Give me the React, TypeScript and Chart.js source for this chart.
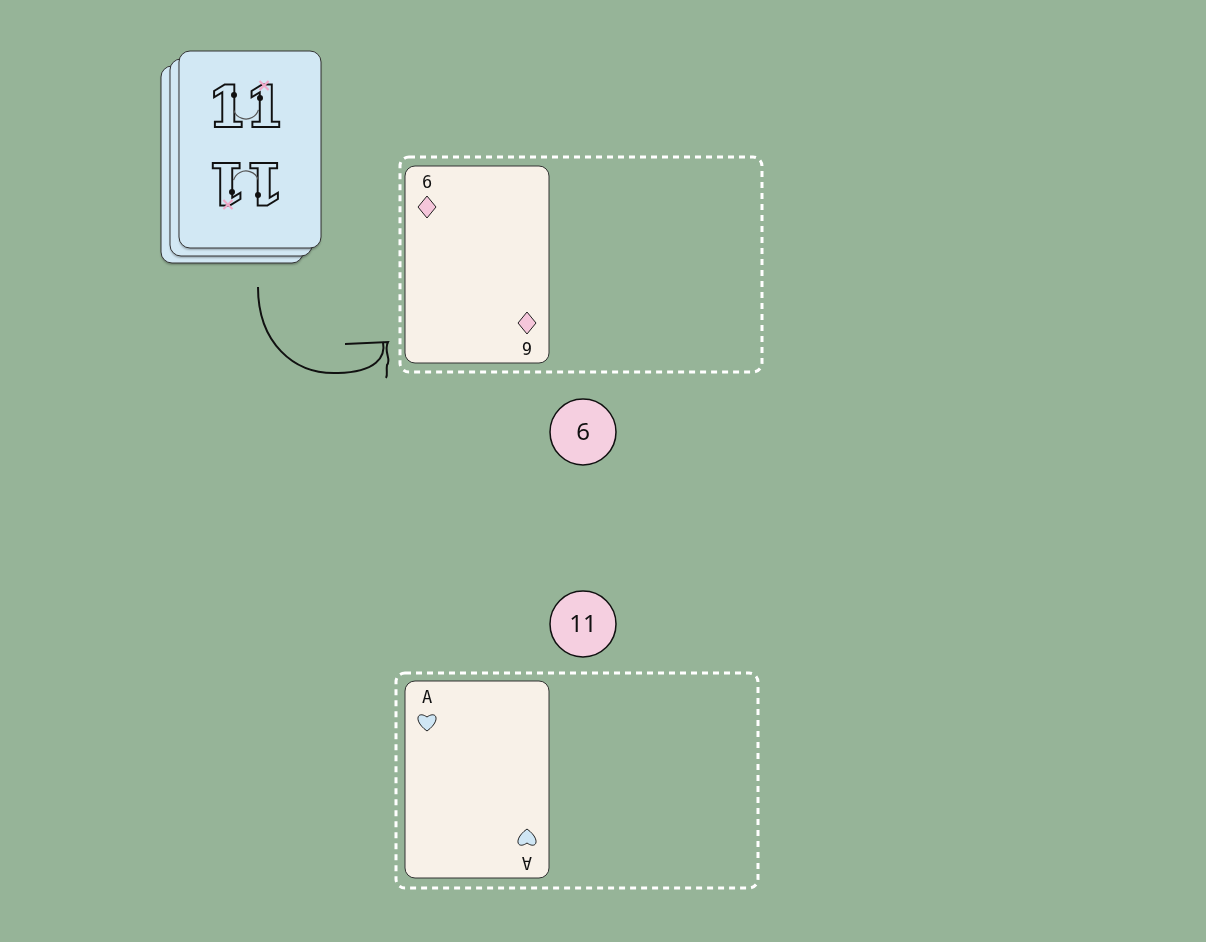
import React, { useEffect, useRef } from "react";
import { Chart, registerables } from "chart.js";
Chart.register(...registerables);

const scoreLabels = ["6", "11"];
const scoreX = [583, 583];
const scoreY = [432, 624];
const playedRanks = ["6", "A"];
const playedSuits = ["diamond", "heart"];
const deckLabel = "11";

function rr(ctx: CanvasRenderingContext2D, x: number, y: number, w: number, h: number, r: number) {
  ctx.beginPath();
  ctx.moveTo(x + r, y);
  ctx.arcTo(x + w, y, x + w, y + h, r);
  ctx.arcTo(x + w, y + h, x, y + h, r);
  ctx.arcTo(x, y + h, x, y, r);
  ctx.arcTo(x, y, x + w, y, r);
  ctx.closePath();
}

function suit(ctx: CanvasRenderingContext2D, kind: string, cx: number, cy: number) {
  ctx.beginPath();
  if (kind === "diamond") {
    ctx.moveTo(cx, cy - 11); ctx.lineTo(cx + 9, cy); ctx.lineTo(cx, cy + 11); ctx.lineTo(cx - 9, cy); ctx.closePath();
    ctx.fillStyle = "#f5c6da";
  } else {
    ctx.moveTo(cx, cy + 9);
    ctx.bezierCurveTo(cx - 14, cy - 1, cx - 10, cy - 12, cx, cy - 5);
    ctx.bezierCurveTo(cx + 10, cy - 12, cx + 14, cy - 1, cx, cy + 9);
    ctx.closePath();
    ctx.fillStyle = "#cfe6f4";
  }
  ctx.fill();
  ctx.strokeStyle = "#222"; ctx.lineWidth = 1; ctx.stroke();
}

function logo(ctx: CanvasRenderingContext2D, x: number, y: number, rot: number) {
  ctx.save(); ctx.translate(x, y); ctx.rotate(rot);
  ctx.font = "bold 54px 'DejaVu Serif'";
  ctx.textAlign = "center"; ctx.textBaseline = "middle";
  ctx.lineWidth = 4; ctx.strokeStyle = "#111"; ctx.fillStyle = "#d2e8f4";
  ctx.strokeText(deckLabel, 0, 0); ctx.fillText(deckLabel, 0, 0);
  ctx.fillStyle = "#111";
  ctx.beginPath(); ctx.arc(-12, -17, 3, 0, Math.PI * 2); ctx.arc(14, -14, 3, 0, Math.PI * 2); ctx.fill();
  ctx.strokeStyle = "#555"; ctx.lineWidth = 1.2;
  ctx.beginPath(); ctx.arc(0, -6, 13, 0.3, Math.PI - 0.3); ctx.stroke();
  ctx.fillStyle = "#f0a8c8"; ctx.font = "bold 18px 'DejaVu Sans'";
  ctx.fillText("×", 18, -26);
  ctx.restore();
}

const scene = {
  id: "scene",
  beforeDatasetsDraw(chart: any) {
    const ctx: CanvasRenderingContext2D = chart.ctx;
    const sx = chart.scales.x, sy = chart.scales.y;
    const P = (x: number, y: number) => [sx.getPixelForValue(x), sy.getPixelForValue(y)];
    ctx.save();
    ctx.fillStyle = "#96b498";
    ctx.fillRect(0, 0, chart.width, chart.height);
    const deck = [[161, 66], [170, 59], [179, 51]];
    deck.forEach(([x, y]) => {
      const [px, py] = P(x, y);
      ctx.shadowColor = "rgba(0,0,0,0.25)"; ctx.shadowOffsetY = 2; ctx.shadowBlur = 2;
      rr(ctx, px, py, 142, 197, 11);
      ctx.fillStyle = "#d2e8f4"; ctx.fill();
      ctx.shadowColor = "transparent";
      ctx.strokeStyle = "#333"; ctx.lineWidth = 1; ctx.stroke();
    });
    const [lx, ly] = P(246, 112);
    logo(ctx, lx, ly, 0);
    logo(ctx, lx, ly + 66, Math.PI);
    ctx.setLineDash([6, 5]); ctx.strokeStyle = "#fff"; ctx.lineWidth = 3;
    [[400, 157], [396, 673]].forEach(([x, y]) => {
      const [px, py] = P(x, y);
      rr(ctx, px, py, 362, 215, 9); ctx.stroke();
    });
    ctx.setLineDash([]);
    [[405, 166], [405, 681]].forEach(([x, y], i) => {
      const [px, py] = P(x, y);
      rr(ctx, px, py, 144, 197, 10);
      ctx.fillStyle = "#f8f1e8"; ctx.fill();
      ctx.strokeStyle = "#333"; ctx.lineWidth = 1; ctx.stroke();
      ctx.fillStyle = "#111"; ctx.font = "17px 'DejaVu Sans Mono'";
      ctx.textAlign = "center"; ctx.textBaseline = "middle";
      ctx.fillText(playedRanks[i], px + 22, py + 18);
      suit(ctx, playedSuits[i], px + 22, py + 41);
      ctx.save(); ctx.translate(px + 122, py + 180); ctx.rotate(Math.PI);
      ctx.fillStyle = "#111"; ctx.fillText(playedRanks[i], 0, 0);
      suit(ctx, playedSuits[i], 0, 23);
      ctx.restore();
    });
    ctx.strokeStyle = "#111"; ctx.lineWidth = 2;
    ctx.beginPath();
    const [a0, a1] = P(258, 287);
    ctx.moveTo(a0, a1);
    ctx.bezierCurveTo(a0, a1 + 55, a0 + 35, a1 + 88, a0 + 80, a1 + 86);
    ctx.bezierCurveTo(a0 + 118, a1 + 85, a0 + 128, a1 + 70, a0 + 125, a1 + 55);
    ctx.stroke();
    ctx.beginPath();
    ctx.moveTo(a0 + 87, a1 + 57); ctx.lineTo(a0 + 130, a1 + 55);
    ctx.bezierCurveTo(a0 + 125, a1 + 65, a0 + 134, a1 + 72, a0 + 129, a1 + 78);
    ctx.bezierCurveTo(a0 + 128, a1 + 84, a0 + 130, a1 + 88, a0 + 128, a1 + 91);
    ctx.stroke();
    ctx.restore();
  },
  afterDatasetsDraw(chart: any) {
    const ctx: CanvasRenderingContext2D = chart.ctx;
    const meta = chart.getDatasetMeta(0);
    ctx.save();
    meta.data.forEach((pt: any, i: number) => {
      ctx.beginPath(); ctx.arc(pt.x, pt.y, 33, 0, Math.PI * 2);
      ctx.fillStyle = "#f5cfe0"; ctx.fill();
      ctx.strokeStyle = "#111"; ctx.lineWidth = 1.5; ctx.stroke();
      ctx.fillStyle = "#111"; ctx.font = "24px 'Noto Sans'";
      ctx.textAlign = "center"; ctx.textBaseline = "middle";
      ctx.fillText(scoreLabels[i], pt.x, pt.y + 1);
    });
    ctx.restore();
  },
};

export default function App() {
  const ref = useRef<HTMLCanvasElement>(null);
  useEffect(() => {
    document.body.style.margin = "0";
    const chart = new Chart(ref.current!, {
      type: "scatter",
      data: {
        datasets: [{
          data: scoreX.map((x, i) => ({ x, y: scoreY[i] })),
          pointRadius: 0, pointHoverRadius: 0, borderWidth: 0,
        }],
      },
      options: {
        animation: false, responsive: false, events: [],
        layout: { padding: 0, autoPadding: false },
        plugins: { legend: { display: false }, tooltip: { enabled: false } },
        scales: {
          x: { type: "linear", min: 0, max: 1206, display: false },
          y: { type: "linear", min: 0, max: 942, reverse: true, display: false },
        },
      },
      plugins: [scene],
    });
    return () => chart.destroy();
  }, []);
  return <canvas ref={ref} width={1206} height={942} style={{ display: "block" }} />;
}
